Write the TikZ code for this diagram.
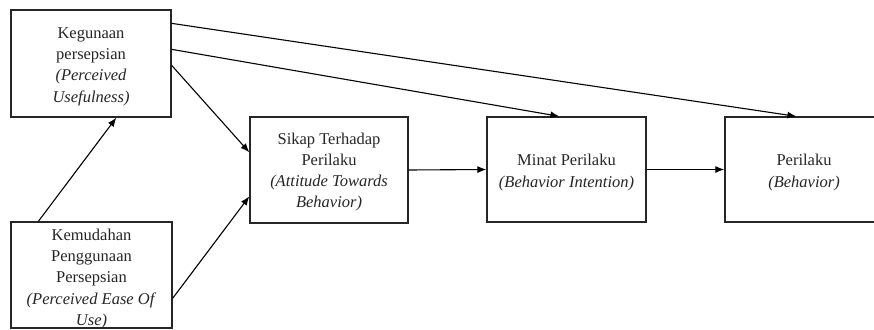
\documentclass[tikz,border=0pt]{standalone}
\usepackage{fontspec}
\setmainfont{Liberation Serif}
\usetikzlibrary{arrows.meta}
\begin{document}
\begin{tikzpicture}[x=1pt,y=-1pt,
  box/.style={draw=black!85,line width=1.3pt,rectangle,inner sep=0pt},
  txt/.style={align=center,inner sep=0pt,text=black!85,font=\fontsize{16.5}{21.3}\selectfont},
  arr/.style={draw=black,line width=1.1pt,-{Latex[length=9pt,width=7pt]}}]
\useasboundingbox[fill=white] (0,0) rectangle (874,329);
\node[box,minimum width=160pt,minimum height=107pt] (k) at (91,63.5) {};
\node[box,minimum width=161pt,minimum height=106pt] (e) at (91.5,275) {};
\node[box,minimum width=158pt,minimum height=106pt] (s) at (329,170) {};
\node[box,minimum width=159pt,minimum height=105pt] (m) at (566.5,169.5) {};
\node[box,minimum width=158pt,minimum height=105pt] (p) at (804,169.5) {};
\node[txt] (kt) at ([yshift=-3pt]k.center)
  {Kegunaan\\persepsian\\\textit{(Perceived}\\\textit{Usefulness)}};
\node[txt] (et) at ([yshift=-4pt]e.center)
  {Kemudahan\\Penggunaan\\Persepsian\\\textit{(Perceived Ease Of}\\\textit{Use)}};
\node[txt] (st) at ([yshift=-2pt]s.center)
  {Sikap Terhadap\\Perilaku\\\textit{(Attitude Towards}\\\textit{Behavior)}};
\node[txt] (mt) at ([yshift=-3pt]m.center)
  {Minat Perilaku\\\textit{(Behavior Intention)}};
\node[txt] (pt) at ([yshift=-3pt]p.center)
  {Perilaku\\\textit{(Behavior)}};
\draw[arr] ([yshift=-14pt]k.north east) -- ([xshift=72pt]p.north west);
\draw[arr] ([yshift=-40pt]k.north east) -- ([xshift=73pt]m.north west);
\draw[arr] ([yshift=-56pt]k.north east) -- ([yshift=-36pt]s.north west);
\draw[arr] ([yshift=-77pt]e.north east) -- ([yshift=-80pt]s.north west);
\draw[arr] ([xshift=28pt]e.north west) -- ([xshift=106pt]k.south west);
\draw[arr] (s.east) -- (m.west);
\draw[arr] (m.east) -- (p.west);
\end{tikzpicture}
\end{document}
